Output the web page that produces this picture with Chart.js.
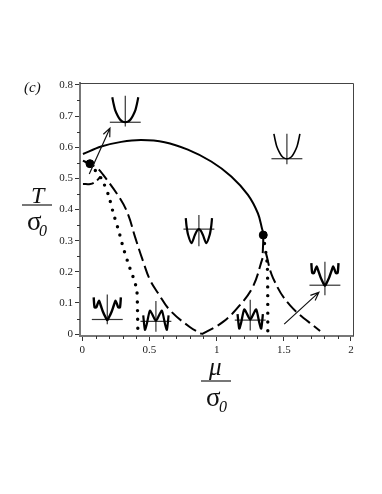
<!DOCTYPE html>
<html>
<head>
<meta charset="utf-8">
<title>Phase diagram</title>
<script src="https://cdn.jsdelivr.net/npm/chart.js@4"></script>
<style>
  html, body { margin: 0; padding: 0; background: #fff; }
  #wrap { position: relative; width: 382px; height: 494px; overflow: hidden; }
  #wrap span { position: absolute; color: #111; line-height: 1; white-space: nowrap; }
  #wrap i.bar { position: absolute; height: 2px; background: #777; }
  .serif { font-family: "Liberation Serif", serif; font-style: italic; }
</style>
</head>
<body>
<div id="wrap">
  <canvas id="myChart" width="382" height="494"></canvas>
  <span class="serif" style="left:24px;top:80px;font-size:15px">(c)</span>
  <span class="serif" style="left:31px;top:183px;font-size:24px">T</span>
  <i class="bar" style="left:22px;top:204px;width:30px"></i>
  <span class="serif" style="left:27px;top:208px;font-size:27px;font-style:normal">σ</span>
  <span class="serif" style="left:39px;top:223px;font-size:16px">0</span>
  <span class="serif" style="left:209px;top:354px;font-size:25px">μ</span>
  <i class="bar" style="left:201px;top:380px;width:30px"></i>
  <span class="serif" style="left:206px;top:384px;font-size:27px;font-style:normal">σ</span>
  <span class="serif" style="left:219px;top:399px;font-size:16px">0</span>
</div>
<script>
const xTicks = [0, 0.5, 1, 1.5, 2];
const yTicks = [0, 0.1, 0.2, 0.3, 0.4, 0.5, 0.6, 0.7, 0.8];
const xMinor = [0.1, 0.2, 0.3, 0.4, 0.6, 0.7, 0.8, 0.9, 1.1, 1.2, 1.3, 1.4, 1.6, 1.7, 1.8, 1.9];
const yMinor = [0.05, 0.15, 0.25, 0.35, 0.45, 0.55, 0.65, 0.75];

// solid transition line
const solidMu = [0.005, 0.141, 0.29, 0.439, 0.613, 0.786, 0.96, 1.109, 1.233, 1.307, 1.337, 1.347, 1.345, 1.343];
const solidT = [0.578, 0.602, 0.617, 0.623, 0.616, 0.592, 0.554, 0.506, 0.447, 0.388, 0.34, 0.318, 0.28, 0.26];

// dashed lines
const dashTopMu = [0.005, 0.107, 0.156, 0.28, 0.342, 0.392, 0.454, 0.504, 0.565, 0.652, 0.8, 0.89];
const dashTopT = [0.557, 0.534, 0.511, 0.436, 0.383, 0.313, 0.232, 0.174, 0.131, 0.077, 0.023, 0];
const dashUpMu = [0.89, 1.05, 1.173, 1.27, 1.342];
const dashUpT = [0, 0.04, 0.093, 0.152, 0.244];
const dashDownMu = [1.367, 1.42, 1.545, 1.77];
const dashDownT = [0.26, 0.18, 0.093, 0.01];
const dashSmallMu = [0.005, 0.06, 0.1, 0.135];
const dashSmallT = [0.482, 0.482, 0.49, 0.505];

// dotted lines
const dotLeftMu = [0.057, 0.144, 0.196, 0.231, 0.271, 0.305, 0.347, 0.392, 0.407, 0.411, 0.414];
const dotLeftT = [0.547, 0.498, 0.445, 0.388, 0.332, 0.277, 0.221, 0.166, 0.136, 0.077, 0];
const dotRightMu = [1.347, 1.377, 1.381];
const dotRightT = [0.318, 0.222, 0];

// the two marked points
const pointsMu = [0.057, 1.347];
const pointsT = [0.547, 0.318];

// arrows: tail and tip
const arrowTailMu = [0.052, 1.503];
const arrowTailT = [0.514, 0.032];
const arrowTipMu = [0.206, 1.761];
const arrowTipT = [0.661, 0.134];

// small potential sketches: half shapes, mirrored on the vertical axis
const bowlX = [0, 0.17, 0.34, 0.5, 0.66, 0.76, 0.84];
const bowlY = [0, 0.02, 0.09, 0.22, 0.4, 0.6, 0.8];
const threeWellX = [0, 0.12, 0.27, 0.48, 0.7, 0.8, 0.85];
const threeWellY = [0, -0.05, -0.2, -0.45, -0.18, 0.1, 0.35];
const bumpX = [0, 0.12, 0.28, 0.42, 0.54, 0.71, 0.82, 0.88];
const bumpY = [-0.02, 0.08, 0.25, 0.45, 0.6, 0.39, 0.39, 0.71];
const humpX = [0, 0.22, 0.39, 0.6, 0.71, 0.82];
const humpY = [0.02, 0.21, 0.34, -0.11, -0.27, 0.19];

const sketchShapeX = [bowlX, bowlX, threeWellX, bumpX, humpX, humpX, bumpX];
const sketchShapeY = [bowlY, bowlY, threeWellY, bumpY, humpY, humpY, bumpY];
const sketchMu = [0.32, 1.523, 0.868, 0.186, 0.548, 1.25, 1.806];
const sketchT = [0.68, 0.563, 0.337, 0.047, 0.041, 0.045, 0.157];
const sketchAxisUp = [0.85, 0.8, 0.45, 0.8, 0.65, 0.65, 0.75];
const sketchAxisDown = [-0.14, -0.18, -0.55, -0.15, -0.33, -0.33, -0.32];
const sketchWidth = [2.2, 1.6, 2.2, 2.4, 2.2, 2.3, 2.4];
const sketchHalfMu = 0.115;
const sketchUnitT = 0.1;

const pairs = (xs, ys) => xs.map((x, i) => ({ x, y: ys[i] }));

const curve = (mu, t, extra) => ({
  data: pairs(mu, t),
  showLine: true,
  pointRadius: 0,
  borderColor: '#000',
  borderWidth: 2,
  tension: 0.4,
  ...extra,
});

const dashed = { borderDash: [13, 5] };
const dotted = { borderDash: [0, 8.7], borderCapStyle: 'round', borderWidth: 3.4, tension: 0.2 };

const datasets = [
  curve(solidMu, solidT, { tension: 0.35 }),
  curve(dashTopMu, dashTopT, dashed),
  curve(dashUpMu, dashUpT, dashed),
  curve(dashDownMu, dashDownT, dashed),
  curve(dashSmallMu, dashSmallT, { borderDash: [11, 4] }),
  curve(dotLeftMu, dotLeftT, dotted),
  curve(dotRightMu, dotRightT, dotted),
  {
    data: pairs(pointsMu, pointsT),
    pointRadius: 4,
    pointBackgroundColor: '#000',
    pointBorderColor: '#000',
  },
];

sketchMu.forEach((mu, i) => {
  const t = sketchT[i];
  const sx = sketchShapeX[i];
  const sy = sketchShapeY[i];
  const left = sx.slice(1).reverse().map((v) => -v);
  const shapeX = left.concat(sx);
  const shapeY = sy.slice(1).reverse().concat(sy);
  datasets.push(curve(
    shapeX.map((v) => mu + v * sketchHalfMu),
    shapeY.map((v) => t + v * sketchUnitT),
    { borderWidth: sketchWidth[i], tension: 0.25 },
  ));
  datasets.push(curve(
    [mu - sketchHalfMu, mu + sketchHalfMu],
    [t, t],
    { borderWidth: 1.2, borderColor: '#333', tension: 0 },
  ));
  datasets.push(curve(
    [mu, mu],
    [t + sketchAxisDown[i] * sketchUnitT, t + sketchAxisUp[i] * sketchUnitT],
    { borderWidth: 1.2, borderColor: '#333', tension: 0 },
  ));
});

// box top/right, minor ticks and arrows are not in the options
const extras = {
  id: 'extras',
  afterDraw(chart) {
    const { ctx, chartArea, scales } = chart;
    const { x, y } = scales;
    ctx.save();
    ctx.strokeStyle = '#444';
    ctx.lineWidth = 1;
    ctx.beginPath();
    ctx.moveTo(chartArea.left, chartArea.top + 0.5);
    ctx.lineTo(chartArea.right + 0.5, chartArea.top + 0.5);
    ctx.lineTo(chartArea.right + 0.5, chartArea.bottom);
    ctx.stroke();

    ctx.strokeStyle = '#333';
    ctx.beginPath();
    xMinor.forEach((v) => {
      const px = Math.round(x.getPixelForValue(v)) + 0.5;
      ctx.moveTo(px, chartArea.bottom);
      ctx.lineTo(px, chartArea.bottom + 3);
    });
    yMinor.forEach((v) => {
      const py = Math.round(y.getPixelForValue(v)) + 0.5;
      ctx.moveTo(chartArea.left, py);
      ctx.lineTo(chartArea.left - 3, py);
    });
    ctx.stroke();

    ctx.strokeStyle = '#111';
    ctx.lineWidth = 1.2;
    arrowTailMu.forEach((mu, i) => {
      const x0 = x.getPixelForValue(mu);
      const y0 = y.getPixelForValue(arrowTailT[i]);
      const x1 = x.getPixelForValue(arrowTipMu[i]);
      const y1 = y.getPixelForValue(arrowTipT[i]);
      const a = Math.atan2(y1 - y0, x1 - x0);
      ctx.beginPath();
      ctx.moveTo(x0, y0);
      ctx.lineTo(x1, y1);
      ctx.moveTo(x1 - 9 * Math.cos(a - 0.4), y1 - 9 * Math.sin(a - 0.4));
      ctx.lineTo(x1, y1);
      ctx.lineTo(x1 - 9 * Math.cos(a + 0.4), y1 - 9 * Math.sin(a + 0.4));
      ctx.stroke();
    });
    ctx.restore();
  },
};

const tickFont = { family: '"Liberation Serif", serif', size: 11 };

const $chart = document.querySelector('#myChart');
const myChart = new Chart($chart, {
  type: 'scatter',
  data: { datasets },
  plugins: [extras],
  options: {
    responsive: false,
    animation: false,
    layout: { padding: { top: 83, right: 29 } },
    plugins: { legend: { display: false }, tooltip: { enabled: false } },
    scales: {
      x: {
        type: 'linear',
        min: -0.017,
        max: 2.015,
        afterBuildTicks: (scale) => { scale.ticks = xTicks.map((value) => ({ value })); },
        afterFit: (scale) => { scale.height = 158; },
        ticks: {
          autoSkip: false,
          maxRotation: 0,
          padding: 3,
          color: '#222',
          font: tickFont,
          callback: (v) => String(v),
        },
        border: { color: '#777', width: 2 },
        grid: { drawOnChartArea: false, tickLength: 5, color: '#333', tickWidth: 1 },
      },
      y: {
        type: 'linear',
        min: -0.006,
        max: 0.806,
        afterBuildTicks: (scale) => { scale.ticks = yTicks.map((value) => ({ value })); },
        afterFit: (scale) => { scale.width = 80; },
        ticks: {
          autoSkip: false,
          padding: 2,
          color: '#222',
          font: tickFont,
          callback: (v) => String(v),
        },
        border: { color: '#777', width: 2 },
        grid: { drawOnChartArea: false, tickLength: 5, color: '#333', tickWidth: 1 },
      },
    },
  },
});
</script>
</body>
</html>
